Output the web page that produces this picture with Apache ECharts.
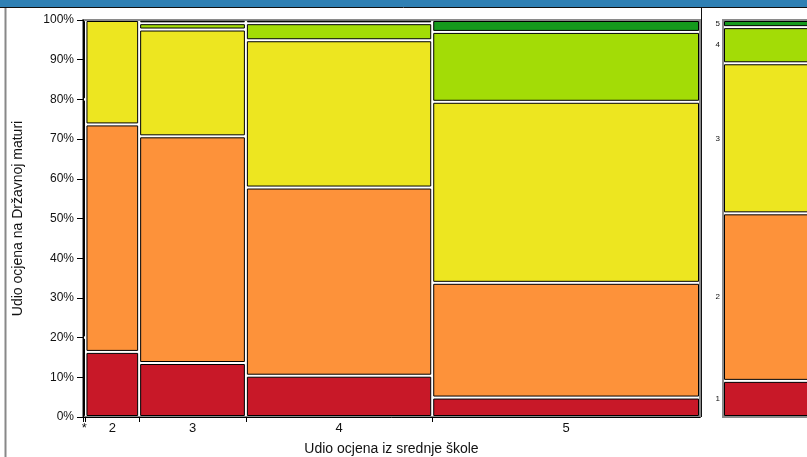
<!DOCTYPE html>
<html>
<head>
<meta charset="utf-8">
<script src="https://cdn.jsdelivr.net/npm/echarts@6/dist/echarts.min.js"></script>
<style>html,body{margin:0;padding:0;background:#fff}#c{width:807px;height:457px}</style>
</head>
<body>
<div id="c"></div>
<script>
// High-school grade categories (x) and their share of students (column widths, %)
const schoolGrades = ['*', '2', '3', '4', '5'];
const schoolShares = [0.4, 8.7, 17.3, 30.2, 43.4];
// Matura grade distribution (%) within each high-school grade: grades 1..5
const dist1 = [20.0, 60.0, 20.0, 0, 0];
const dist2 = [16.4, 57.3, 26.3, 0, 0];
const dist3 = [13.6, 57.1, 26.9, 1.6, 0.8];
const dist4 = [10.4, 47.4, 37.1, 4.3, 0.8];
const dist5 = [4.9, 28.9, 45.6, 17.6, 3.0];
// Overall matura grade distribution (%) – right-hand marginal bar
const maturaGrades = ['1', '2', '3', '4', '5'];
const overall = [9.1, 42.2, 37.8, 9.1, 1.8];
// Y-axis tick values
const yTicks = [0, 10, 20, 30, 40, 50, 60, 70, 80, 90, 100];

const colors = ['#c81828', '#fd923a', '#ede620', '#a3dc06', '#159a1c'];
const dists = [dist1, dist2, dist3, dist4, dist5];

const total = schoolShares.reduce((a, b) => a + b, 0);
const mosaic = [];
const boundaries = [0];
const centers = [];
let xc = 0;
schoolShares.forEach((w, i) => {
  const d = dists[i];
  const s = d.reduce((a, b) => a + b, 0);
  let yc = 0;
  d.forEach((v, j) => {
    const pct = v / s * 100;
    if (pct > 0) mosaic.push([xc, xc + w, yc, yc + pct, j]);
    yc += pct;
  });
  centers.push(xc + w / 2);
  xc += w;
  boundaries.push(xc);
});
const margData = [];
const margCenters = [];
let mc = 0;
const ms = overall.reduce((a, b) => a + b, 0);
overall.forEach((v, j) => {
  const pct = v / ms * 100;
  margData.push([0, 1, mc, mc + pct, j]);
  margCenters.push(mc + pct / 2);
  mc += pct;
});

function nearestIndex(arr, v) {
  let best = 0, bd = Infinity;
  arr.forEach((a, i) => { const d = Math.abs(a - v); if (d < bd) { bd = d; best = i; } });
  return best;
}

function cellRenderer(inset) {
  return function (params, api) {
    const p0 = api.coord([api.value(0), api.value(3)]);
    const p1 = api.coord([api.value(1), api.value(2)]);
    let x = p0[0] + inset, y = p0[1] + inset;
    let w = p1[0] - p0[0] - 2 * inset, h = p1[1] - p0[1] - 2 * inset;
    if (w < 0.5) { x = (p0[0] + p1[0]) / 2 - 0.25; w = 0.5; }
    if (h < 0.5) { y = (p0[1] + p1[1]) / 2 - 0.25; h = 0.5; }
    return {
      type: 'rect',
      shape: { x: x, y: y, width: w, height: h },
      style: { fill: colors[api.value(4)], stroke: '#000', lineWidth: 1 }
    };
  };
}

const font = 'Liberation Sans, Arial, sans-serif';
const chart = echarts.init(document.getElementById('c'), null, { renderer: 'canvas' });
chart.setOption({
  animation: false,
  backgroundColor: '#fff',
  grid: [
    { left: 83, right: 107, top: 20, bottom: 40, outerBoundsMode: 'none', containLabel: false, show: true, borderColor: '#8a8a8a', borderWidth: 2, backgroundColor: 'transparent' },
    { left: 723, width: 120, top: 20, bottom: 40, outerBoundsMode: 'none', containLabel: false, show: true, borderColor: '#8a8a8a', borderWidth: 2, backgroundColor: 'transparent' }
  ],
  xAxis: [
    {
      type: 'value', gridIndex: 0, min: 0, max: total,
      splitLine: { show: false },
      axisLine: { show: true, lineStyle: { color: '#000', width: 1 } },
      axisTick: { show: true, customValues: boundaries.slice(0, -1), length: 5, lineStyle: { color: '#000' } },
      axisLabel: {
        show: true, customValues: centers, margin: 5,
        formatter: v => schoolGrades[nearestIndex(centers, v)],
        color: '#111', fontSize: 13, fontFamily: font, hideOverlap: false,
        showMinLabel: true, showMaxLabel: true
      },
      name: 'Udio ocjena iz srednje škole', nameLocation: 'middle', nameGap: 25,
      nameTextStyle: { color: '#111', fontSize: 14, fontFamily: font }
    },
    {
      type: 'value', gridIndex: 1, min: 0, max: 1, show: false
    }
  ],
  yAxis: [
    {
      type: 'value', gridIndex: 0, min: 0, max: 100, interval: 10,
      splitLine: { show: false },
      axisLine: { show: true, lineStyle: { color: '#000', width: 1 } },
      axisTick: { show: true, length: 6, lineStyle: { color: '#000' } },
      axisLabel: {
        margin: 9, formatter: v => v + '%',
        color: '#111', fontSize: 12, fontFamily: font
      },
      name: 'Udio ocjena na Državnoj maturi', nameLocation: 'middle', nameGap: 58, nameRotate: 90,
      nameTextStyle: { color: '#111', fontSize: 14, fontFamily: font }
    },
    {
      type: 'value', gridIndex: 1, min: 0, max: 100,
      splitLine: { show: false },
      axisLine: { show: false },
      axisTick: { show: false },
      axisLabel: {
        show: true, customValues: margCenters, margin: 3,
        formatter: v => maturaGrades[nearestIndex(margCenters, v)],
        color: '#111', fontSize: 8, fontFamily: font,
        showMinLabel: true, showMaxLabel: true
      }
    }
  ],
  series: [
    {
      type: 'custom', xAxisIndex: 0, yAxisIndex: 0,
      renderItem: cellRenderer(1.5),
      encode: { x: [0, 1], y: [2, 3] },
      data: mosaic
    },
    {
      type: 'custom', xAxisIndex: 1, yAxisIndex: 1,
      renderItem: cellRenderer(1.5),
      encode: { x: [0, 1], y: [2, 3] },
      data: margData
    }
  ],
  graphic: [
    { type: 'rect', shape: { x: 0, y: 0, width: 807, height: 7 }, style: { fill: '#2f80b4' }, z: 100 },
    { type: 'line', shape: { x1: 0, y1: 7.5, x2: 807, y2: 7.5 }, style: { stroke: '#111', lineWidth: 1 }, z: 100 },
    { type: 'line', shape: { x1: 5.5, y1: 8, x2: 5.5, y2: 457 }, style: { stroke: '#888', lineWidth: 2 }, z: 100 },
    { type: 'line', shape: { x1: 701.5, y1: 8, x2: 701.5, y2: 417 }, style: { stroke: '#111', lineWidth: 1 }, z: 100 }
  ]
});
</script>
</body>
</html>
